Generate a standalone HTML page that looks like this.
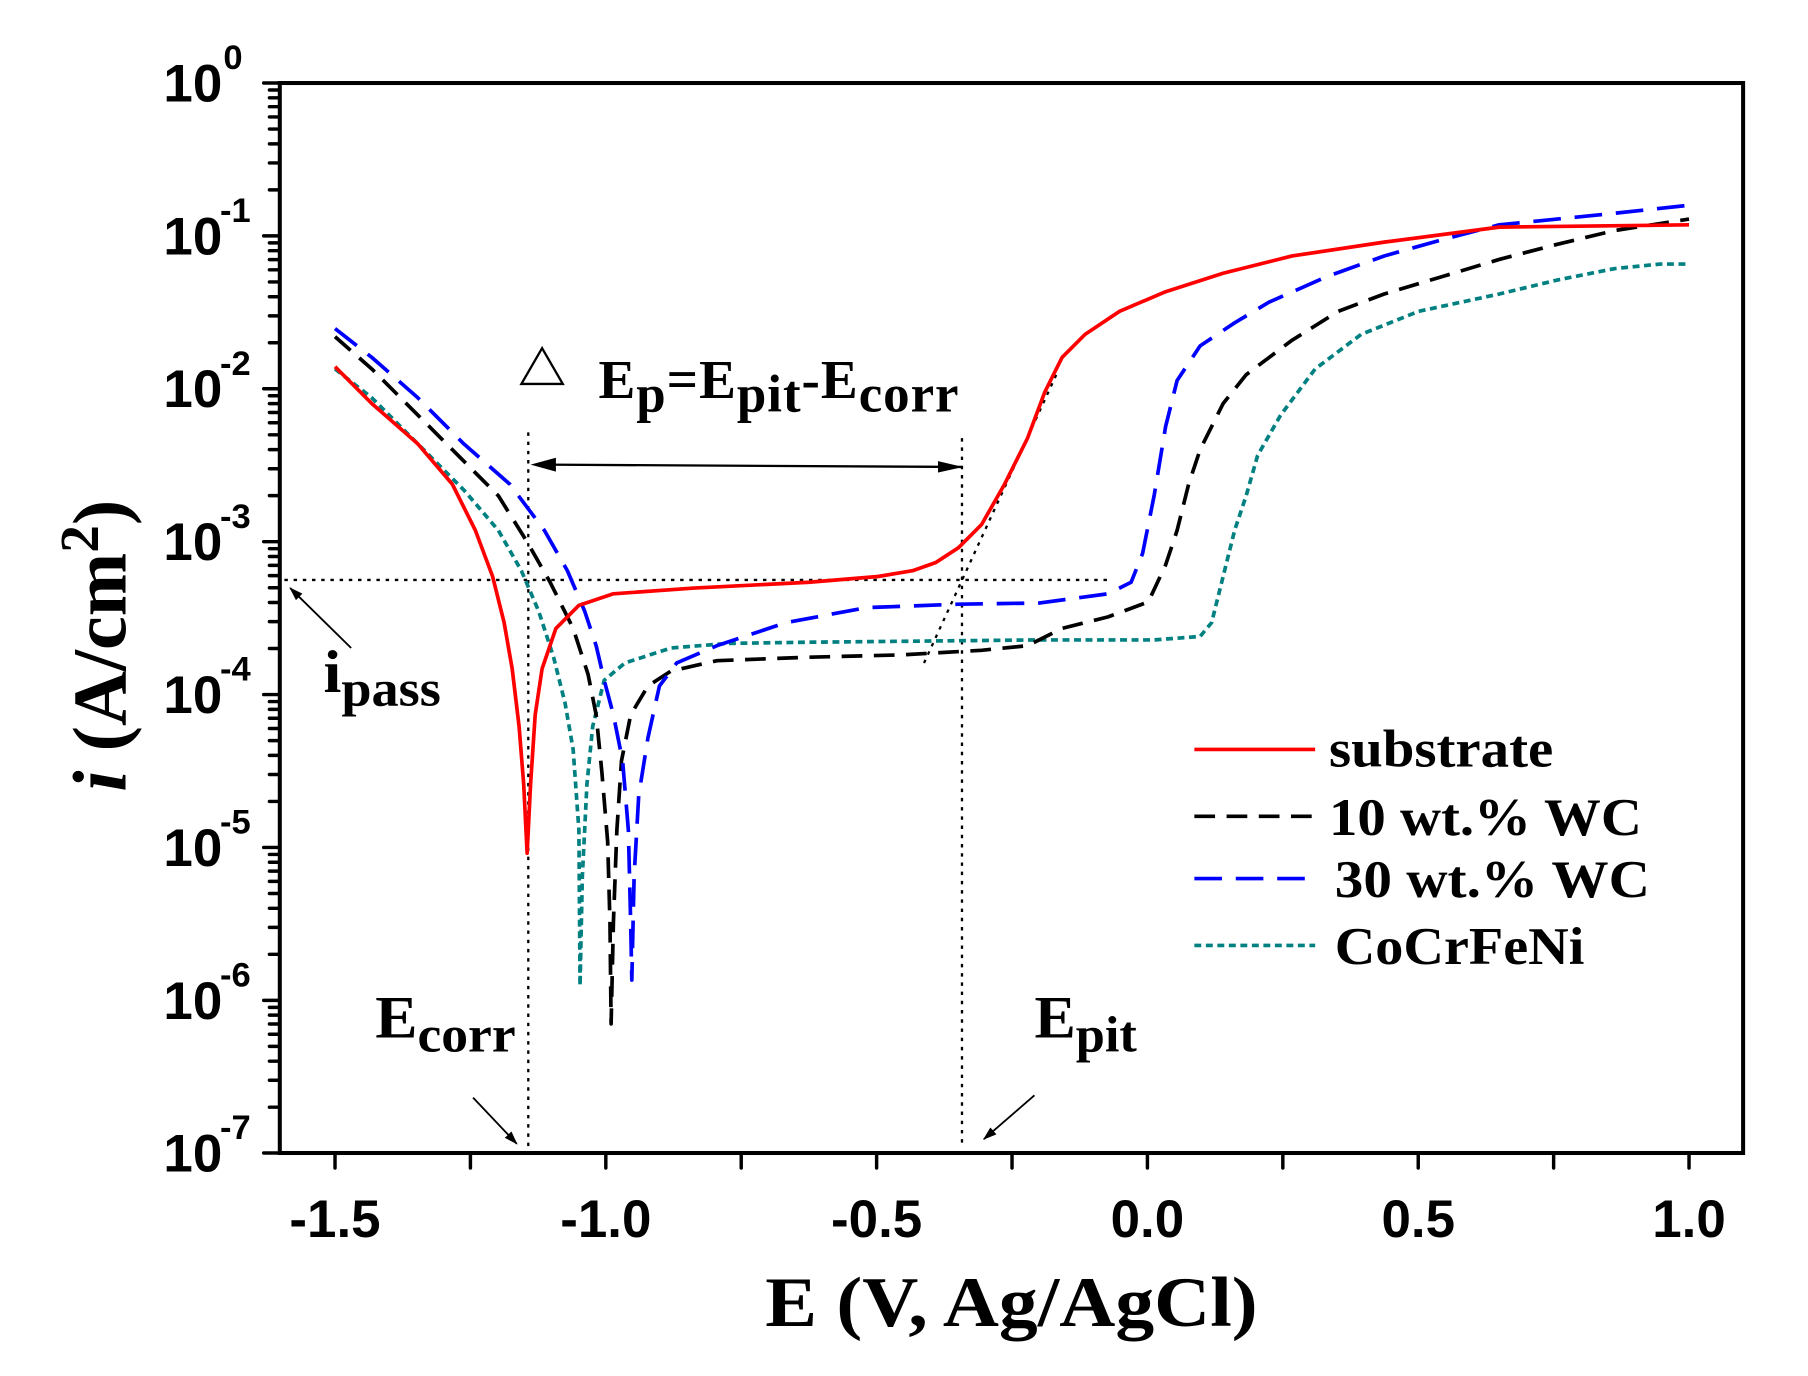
<!DOCTYPE html>
<html><head><meta charset="utf-8"><style>
html,body{margin:0;padding:0;background:#fff;}
svg{display:block;}
.tk{font-family:"Liberation Sans",sans-serif;font-weight:bold;font-size:46px;}
.sf{font-family:"Liberation Serif",serif;font-weight:bold;}
</style></head><body>
<svg width="1808" height="1376" viewBox="0 0 1808 1376" xmlns="http://www.w3.org/2000/svg">
<defs>
<marker id="ah" markerWidth="12" markerHeight="8" refX="11" refY="4" orient="auto" markerUnits="userSpaceOnUse"><path d="M0,0 L12,4 L0,8 Z" fill="#000"/></marker>
<marker id="ah2" markerWidth="22" markerHeight="10" refX="21" refY="5" orient="auto" markerUnits="userSpaceOnUse"><path d="M0,0 L22,5 L0,10 Z" fill="#000"/></marker>
<g id="dec" stroke="#000" stroke-width="3" stroke-linecap="round">
<line x1="226" y1="0" x2="240" y2="0"/>
<line x1="231" y1="6.07" x2="240" y2="6.07"/><line x1="231" y1="12.83" x2="240" y2="12.83"/>
<line x1="231" y1="20.54" x2="240" y2="20.54"/><line x1="231" y1="29.42" x2="240" y2="29.42"/>
<line x1="231" y1="39.93" x2="240" y2="39.93"/><line x1="231" y1="52.77" x2="240" y2="52.77"/>
<line x1="231" y1="69.33" x2="240" y2="69.33"/><line x1="231" y1="92.68" x2="240" y2="92.68"/>
</g>
</defs>
<g transform="matrix(1.1504,0,0,1.153,3.7,0)">
<rect x="240" y="72" width="1272" height="928" fill="none" stroke="#000" stroke-width="3.5"/>
<g stroke="#000" stroke-width="3" stroke-linecap="round">
<line x1="288" y1="1000" x2="288" y2="1013"/><line x1="405.7" y1="1000" x2="405.7" y2="1013"/>
<line x1="523.4" y1="1000" x2="523.4" y2="1013"/><line x1="641.1" y1="1000" x2="641.1" y2="1013"/>
<line x1="758.8" y1="1000" x2="758.8" y2="1013"/><line x1="876.5" y1="1000" x2="876.5" y2="1013"/>
<line x1="994.2" y1="1000" x2="994.2" y2="1013"/><line x1="1111.9" y1="1000" x2="1111.9" y2="1013"/>
<line x1="1229.6" y1="1000" x2="1229.6" y2="1013"/><line x1="1347.3" y1="1000" x2="1347.3" y2="1013"/>
<line x1="1465" y1="1000" x2="1465" y2="1013"/>
<line x1="226" y1="1000" x2="240" y2="1000"/>
</g>
<use href="#dec" y="72"/><use href="#dec" y="204.6"/><use href="#dec" y="337.2"/><use href="#dec" y="469.8"/>
<use href="#dec" y="602.4"/><use href="#dec" y="735"/><use href="#dec" y="867.6"/>
<g class="tk" text-anchor="middle">
<text x="288" y="1073">-1.5</text><text x="523.4" y="1073">-1.0</text><text x="758.8" y="1073">-0.5</text>
<text x="994.2" y="1073">0.0</text><text x="1229.6" y="1073">0.5</text><text x="1465" y="1073">1.0</text>
</g>
<g class="tk" text-anchor="end">
<text x="190" y="88">10</text><text x="190" y="220.6">10</text><text x="190" y="353.2">10</text><text x="190" y="485.8">10</text>
<text x="190" y="618.4">10</text><text x="190" y="751">10</text><text x="190" y="883.6">10</text><text x="190" y="1016">10</text>
</g>
<g class="tk" style="font-size:30px">
<text x="191" y="60">0</text><text x="188" y="192.6">-1</text><text x="188" y="325.2">-2</text><text x="188" y="457.8">-3</text>
<text x="188" y="590.4">-4</text><text x="188" y="723">-5</text><text x="188" y="855.6">-6</text><text x="188" y="988">-7</text>
</g>
<g stroke="#000" stroke-width="2" stroke-dasharray="3,5" fill="none">
<line x1="456" y1="375" x2="456" y2="995"/>
<line x1="833" y1="380" x2="833" y2="995"/>
<line x1="244" y1="503" x2="960" y2="503"/>
<line x1="800" y1="575" x2="915" y2="325"/>
</g>
<line x1="470" y1="403" x2="833" y2="405" stroke="#000" stroke-width="2" marker-end="url(#ah2)"/>
<path d="M458,403 L480,397 L480,409 Z" fill="#000"/>
<g fill="none" stroke-width="3.2" stroke-linejoin="round">
<path stroke="#008080" stroke-dasharray="6,4" d="M288,320 L320,345 L360,385 L400,425 L430,460 L450,495 L465,530 L478,570 L488,610 L495,650 L500,720 L501,855 L503,760 L507,680 L512,630 L522,590 L540,575 L580,562 L630,558 L700,557 L800,556 L900,555 L1000,555 L1040,552 L1050,540 L1060,500 L1070,460 L1080,430 L1090,395 L1110,360 L1140,320 L1180,290 L1230,270 L1300,255 L1350,243 L1400,233 L1440,229 L1465,229"/>
<path stroke="#000" stroke-dasharray="18,10" d="M288,292 L320,320 L360,360 L400,400 L430,430 L455,470 L475,505 L495,545 L508,585 L515,620 L520,670 L525,730 L527,800 L528,888 L530,800 L533,720 L537,660 L545,620 L560,595 L580,582 L620,573 L700,570 L780,568 L850,564 L890,560 L920,545 L960,535 L995,522 L1010,490 L1020,460 L1030,420 L1040,390 L1060,350 L1080,325 L1120,295 L1160,270 L1200,255 L1250,240 L1300,225 L1350,212 L1400,200 L1465,190"/>
<path stroke="#0000ff" stroke-dasharray="24,12" d="M288,285 L320,310 L360,345 L400,385 L440,420 L470,460 L490,495 L505,530 L515,560 L522,590 L530,620 L538,660 L543,720 L545,800 L546,850 L548,760 L552,690 L560,640 L570,595 L585,575 L620,560 L680,540 L750,527 L830,524 L900,523 L960,515 L980,505 L990,480 L1000,430 L1010,370 L1020,330 L1040,300 L1070,280 L1100,262 L1150,240 L1200,222 L1250,208 L1300,195 L1400,185 L1465,178"/>
<path stroke="#ff0000" d="M288,318 L320,350 L360,385 L390,420 L410,460 L425,500 L435,540 L442,580 L448,630 L452,680 L455,740 L458,680 L462,620 L468,580 L480,545 L500,525 L530,515 L600,510 L700,505 L760,500 L790,495 L810,488 L830,475 L850,455 L870,420 L890,380 L905,340 L920,310 L940,290 L970,270 L1010,253 L1060,237 L1120,222 L1200,210 L1300,197 L1465,195"/>
</g>
<line x1="302" y1="562" x2="249" y2="510" stroke="#000" stroke-width="1.6" marker-end="url(#ah)"/>
<line x1="408" y1="952" x2="446" y2="992" stroke="#000" stroke-width="1.6" marker-end="url(#ah)"/>
<line x1="896" y1="950" x2="852" y2="988" stroke="#000" stroke-width="1.6" marker-end="url(#ah)"/>
<g class="sf" font-size="52">
<text x="278" y="600" textLength="102" lengthAdjust="spacingAndGlyphs">i<tspan font-size="44" dy="12">pass</tspan></text>
<text x="323" y="900" textLength="122" lengthAdjust="spacingAndGlyphs">E<tspan font-size="44" dy="12">corr</tspan></text>
<text x="896" y="900" textLength="89" lengthAdjust="spacingAndGlyphs">E<tspan font-size="44" dy="12">pit</tspan></text>
</g>
<g class="sf" font-size="48">
<text x="517" y="345" textLength="313">E<tspan font-size="46" dy="12">p</tspan><tspan dy="-12">=E</tspan><tspan font-size="46" dy="12">pit</tspan><tspan dy="-12">-E</tspan><tspan font-size="46" dy="12">corr</tspan></text>
</g>
<path d="M450,333 L468,302 L486,333 Z" fill="none" stroke="#000" stroke-width="2"/>
<g stroke-width="3.2">
<line x1="1035" y1="650" x2="1140" y2="650" stroke="#ff0000"/>
<line x1="1035" y1="708" x2="1140" y2="708" stroke="#000" stroke-dasharray="18,10"/>
<line x1="1035" y1="762" x2="1140" y2="762" stroke="#0000ff" stroke-dasharray="24,12"/>
<line x1="1035" y1="820" x2="1140" y2="820" stroke="#008080" stroke-dasharray="6,4"/>
</g>
<g class="sf" font-size="46">
<text x="1152" y="665" textLength="195" lengthAdjust="spacingAndGlyphs">substrate</text>
<text x="1152" y="724" textLength="272" lengthAdjust="spacingAndGlyphs">10 wt.% WC</text>
<text x="1157" y="778" textLength="274" lengthAdjust="spacingAndGlyphs">30 wt.% WC</text>
<text x="1157" y="836" textLength="217" lengthAdjust="spacingAndGlyphs">CoCrFeNi</text>
</g>
<text class="sf" font-size="62" x="662" y="1150" textLength="428" lengthAdjust="spacingAndGlyphs">E (V, Ag/AgCl)</text>
<text class="sf" font-size="66" text-anchor="middle" transform="translate(106,560) rotate(-90)"><tspan font-style="italic">i</tspan> (A/cm<tspan font-size="48" dy="-24">2</tspan><tspan dy="24">)</tspan></text>
</g>
</svg>
</body></html>
